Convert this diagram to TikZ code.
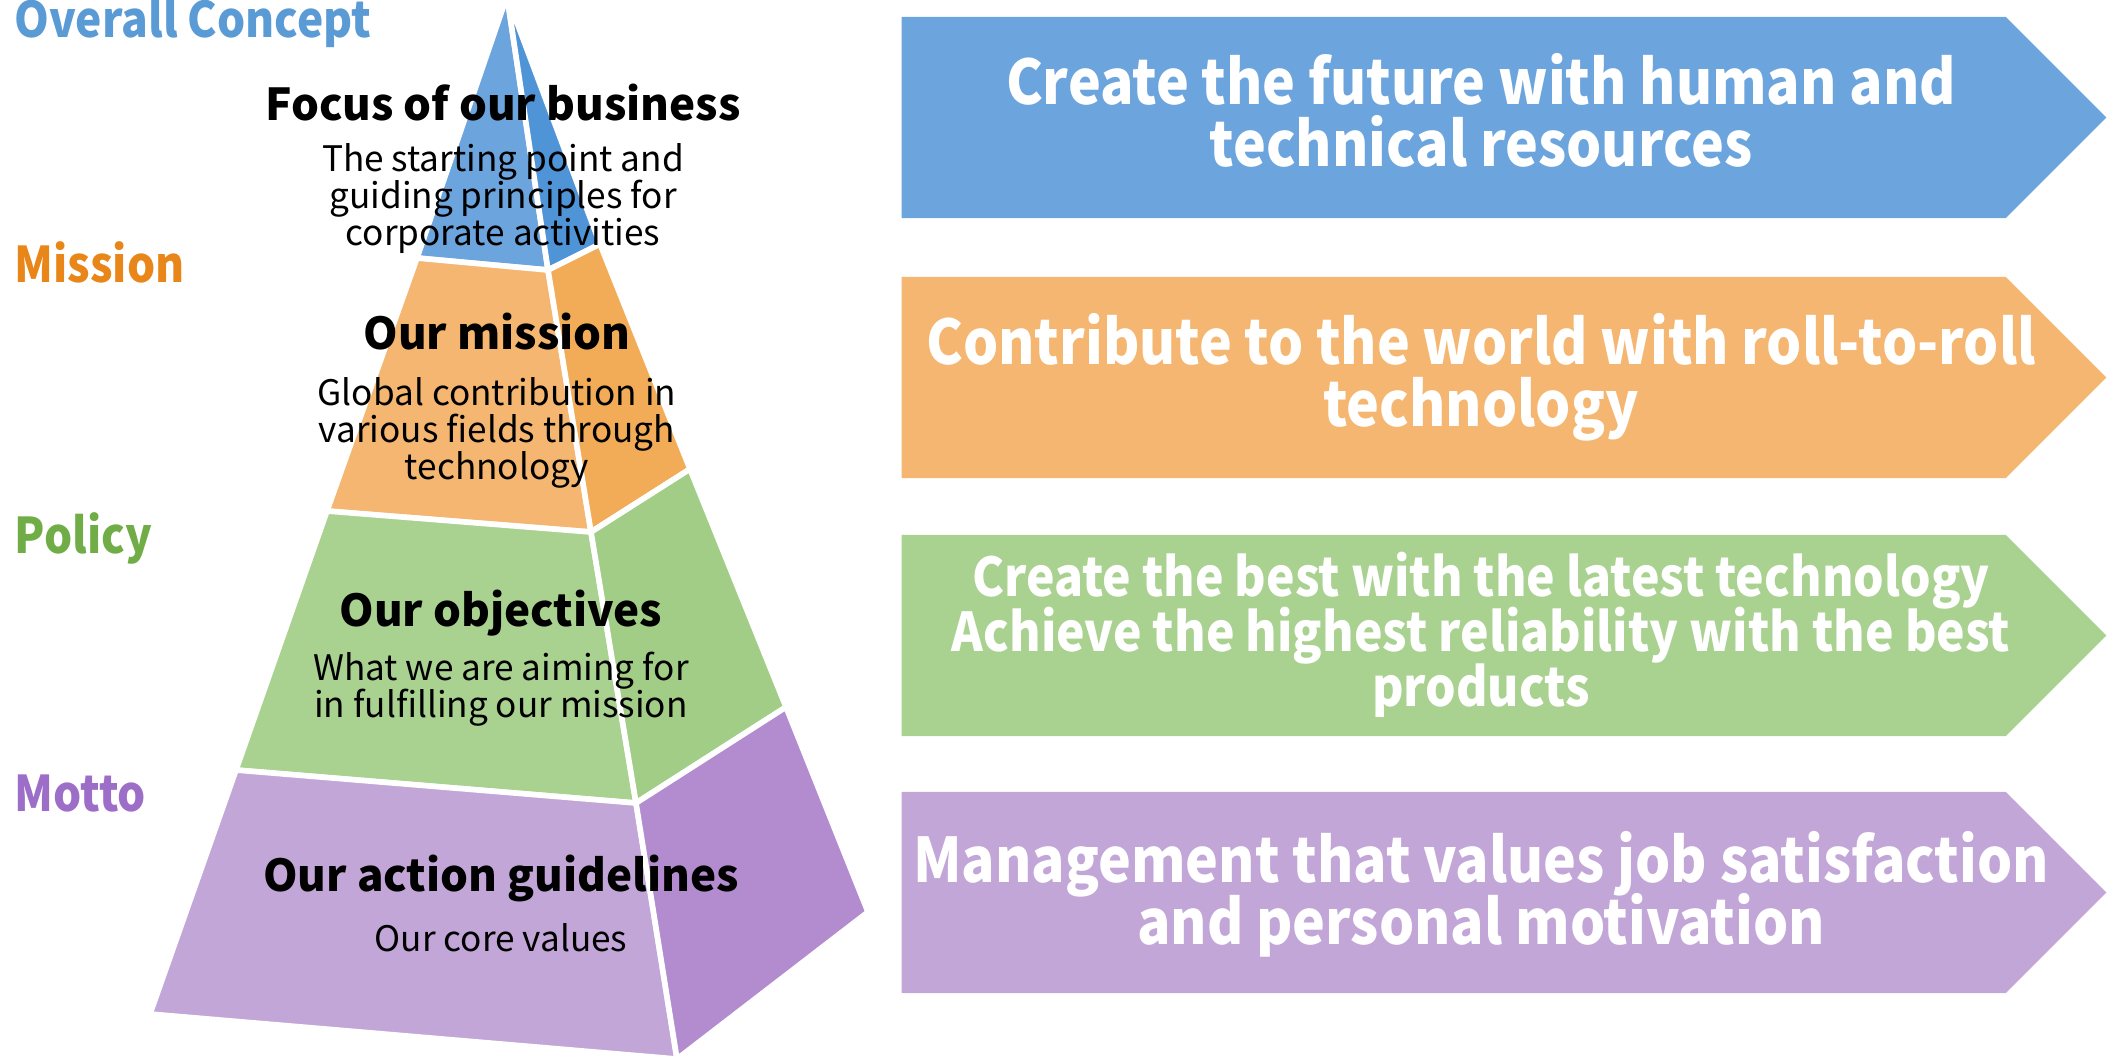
\documentclass[tikz,border=0pt]{standalone}
\usepackage{fontspec}
\setmainfont{Noto Sans CJK JP}
\newfontfamily\narrowfont{Noto Sans CJK JP}[FakeStretch=0.9]
\usepackage{xcolor}
\usepackage{tikz}
\usetikzlibrary{shapes.symbols}
\definecolor{conceptblue}{RGB}{108,164,222}
\definecolor{conceptside}{RGB}{79,148,215}
\definecolor{concepttitle}{RGB}{91,155,213}
\definecolor{missionorange}{RGB}{244,182,112}
\definecolor{missionside}{RGB}{242,172,87}
\definecolor{missiontitle}{RGB}{232,134,26}
\definecolor{policygreen}{RGB}{169,209,143}
\definecolor{policyside}{RGB}{162,205,135}
\definecolor{policytitle}{RGB}{112,173,71}
\definecolor{mottopurple}{RGB}{194,166,216}
\definecolor{mottoside}{RGB}{178,140,206}
\definecolor{mottotitle}{RGB}{157,110,200}
% fixed line spacing, no extra \lineskip between tall lines
\newcommand{\tightlines}{\lineskiplimit=-20pt\relax}

\begin{document}
\begin{tikzpicture}[
    x=0.01cm,
    y=-0.01cm,
    face/.style={
        draw=white,
        line width=1.6pt,
        line join=round
    },
    banner/.style={
        signal,
        signal to=east,
        signal pointer angle=90,
        minimum width=12.04cm,
        minimum height=2.01cm,
        inner sep=0pt,
        anchor=west
    },
    bannertext/.style={
        text=white,
        align=center,
        font=\narrowfont\fontsize{17.5}{17.6}\selectfont\bfseries\tightlines
    },
    leveltitle/.style={
        anchor=base,
        inner sep=0pt,
        font=\fontsize{12.5}{13}\selectfont\bfseries
    },
    levelsub/.style={
        anchor=base,
        inner sep=0pt,
        align=center,
        font=\fontsize{10}{10.5}\selectfont\tightlines
    },
    sidelabel/.style={
        anchor=base west,
        inner sep=0pt,
        font=\narrowfont\fontsize{14}{14}\selectfont\bfseries
    }
]
\useasboundingbox (0,0) rectangle (2116,1056);

% pyramid corners: left edge, middle edge, right edge
\coordinate (apex) at (507,-4);
\coordinate (L1) at (417,258);
\coordinate (M1) at (548,270);
\coordinate (R1) at (600,244);
\coordinate (L2) at (327,511);
\coordinate (M2) at (591,532);
\coordinate (R2) at (690,469);
\coordinate (L3) at (236,770);
\coordinate (M3) at (636,803);
\coordinate (R3) at (786,707);
\coordinate (L4) at (150,1014);
\coordinate (M4) at (677,1059);
\coordinate (R4) at (868,912);

% layers, front face then side face
\filldraw[face, fill=conceptblue] (apex) -- (L1) -- (M1) -- cycle;
\filldraw[face, fill=conceptside] (apex) -- (M1) -- (R1) -- cycle;
\filldraw[face, fill=missionorange] (L1) -- (L2) -- (M2) -- (M1) -- cycle;
\filldraw[face, fill=missionside] (M1) -- (M2) -- (R2) -- (R1) -- cycle;
\filldraw[face, fill=policygreen] (L2) -- (L3) -- (M3) -- (M2) -- cycle;
\filldraw[face, fill=policyside] (M2) -- (M3) -- (R3) -- (R2) -- cycle;
\filldraw[face, fill=mottopurple] (L3) -- (L4) -- (M4) -- (M3) -- cycle;
\filldraw[face, fill=mottoside] (M3) -- (M4) -- (R4) -- (R3) -- cycle;

% the sub texts sit on the baseline of their last line
\node[leveltitle] (focus) at (503,120) {Focus of our business};
\node[levelsub] (focussub) at (503,245) {The starting point and\\guiding principles for\\corporate activities};
\node[leveltitle] (mission) at (497,349) {Our mission};
\node[levelsub] (missionsub) at (497,479) {Global contribution in\\various fields through\\technology};
\node[leveltitle] (objectives) at (501,626) {Our objectives};
\node[levelsub] (objectivessub) at (501,717) {What we are aiming for\\in fulfilling our mission};
\node[leveltitle] (guidelines) at (501,891) {Our action guidelines};
\node[levelsub] (guidelinessub) at (501,951) {Our core values};

% headings on the left
\node[sidelabel, text=concepttitle] (conceptlabel) at (14,37) {Overall Concept};
\node[sidelabel, text=missiontitle] (missionlabel) at (14,282) {Mission};
\node[sidelabel, text=policytitle] (policylabel) at (14,553) {Policy};
\node[sidelabel, text=mottotitle] (mottolabel) at (14,811) {Motto};

% statements on the right
\node[banner, fill=conceptblue] (conceptarrow) at (901,117.5) {};
\node[banner, fill=missionorange] (missionarrow) at (901,377.5) {};
\node[banner, fill=policygreen] (policyarrow) at (901,635.5) {};
\node[banner, fill=mottopurple] (mottoarrow) at (901,892.5) {};

\node[bannertext] (concepttext) at (1481,110) {Create the future with human and\\technical resources};
\node[bannertext] (missiontext) at (1481,377) {Contribute to the world with roll-to-roll\\technology};
\node[bannertext, font=\narrowfont\fontsize{15.2}{15.6}\selectfont\bfseries\tightlines] (policytext) at (1481,634.5) {Create the best with the latest technology\\Achieve the highest reliability with the best\\products};
\node[bannertext] (mottotext) at (1481,894) {Management that values job satisfaction\\and personal motivation};

\end{tikzpicture}
\end{document}
